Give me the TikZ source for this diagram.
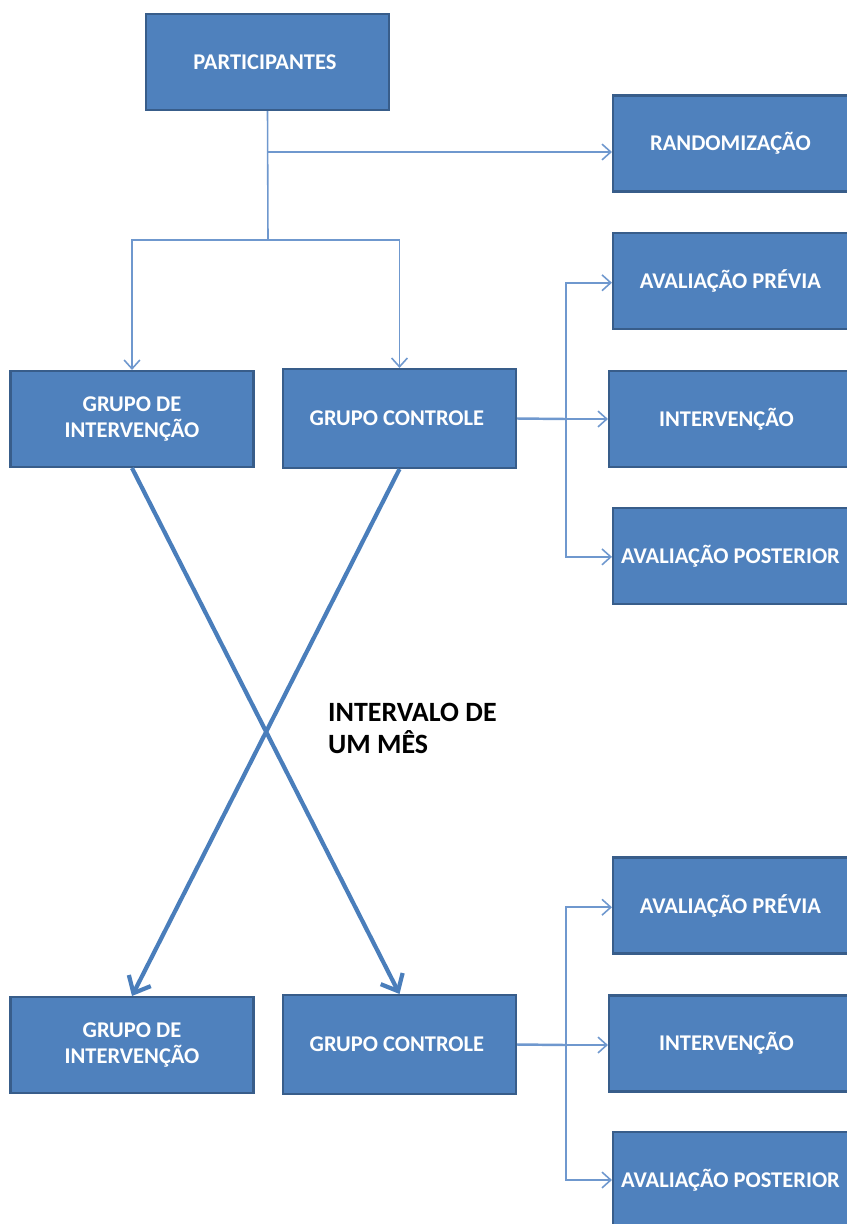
\documentclass[tikz,border=0pt]{standalone}
\usepackage{fontspec}
\setmainfont{Carlito}
\usetikzlibrary{arrows.meta, positioning}
\definecolor{boxfill}{HTML}{4F81BD}
\definecolor{boxline}{HTML}{385D8A}
\definecolor{linkblue}{HTML}{6F98CE}
\definecolor{crossblue}{HTML}{4A7EBB}
\tikzset{stage/.style={draw=boxline, line width=1.2pt, fill=boxfill, text=white, align=center,
    font=\fontsize{12.8}{14.7}\selectfont\bfseries, inner sep=0pt,
    minimum width=4.86cm, minimum height=1.92cm}}
\tikzset{stagec/.style={stage, minimum width=4.66cm, minimum height=1.98cm}}
\tikzset{stager/.style={stage, minimum width=4.8cm, minimum height=1.92cm}}
\tikzset{link/.style={draw=linkblue, line width=0.9pt, -{Straight Barb[length=5pt, width=9pt]}}}
\tikzset{plain/.style={draw=linkblue, line width=0.9pt}}
\tikzset{cross/.style={draw=crossblue, line width=2.4pt, -{Straight Barb[length=8pt, width=14pt, line width=2.4pt]}}}

\begin{document}
\begin{tikzpicture}[x=0.02cm, y=-0.02cm]
            \useasboundingbox (0, 0) rectangle (847, 1224);

            \node [stage] (part) at (267.5, 62) { PARTICIPANTES };
            \node [stager] (rand) at (733, 143.5) { RANDOMIZAÇÃO };

            \node [stage] (gi1) at (132, 419) { GRUPO DE\\INTERVENÇÃO };
            \node [stagec] (gc1) at (399.5, 418.5) { GRUPO CONTROLE };
            \node [stager] (prev1) at (733, 281) { AVALIAÇÃO PRÉVIA };
            \node [stager] (interv1) at (729, 419) { INTERVENÇÃO };
            \node [stager] (post1) at (733, 556) { AVALIAÇÃO POSTERIOR };

            \node [stage] (gi2) at (132, 1045) { GRUPO DE\\INTERVENÇÃO };
            \node [stagec] (gc2) at (399.5, 1044.5) { GRUPO CONTROLE };
            \node [stager] (prev2) at (733, 905.5) { AVALIAÇÃO PRÉVIA };
            \node [stager] (interv2) at (729, 1043.5) { INTERVENÇÃO };
            \node [stager] (post2) at (733, 1180) { AVALIAÇÃO POSTERIOR };

            \node [anchor=north west, align=left, font=\fontsize{15.9}{18}\selectfont\bfseries] (gap) at (322, 697) { INTERVALO DE\\UM MÊS };

            \coordinate (split) at (268, 240);
            \coordinate (tee) at (268, 152);
            \coordinate (fork1) at (566, 419);
            \coordinate (fork2) at (566, 1045);

            \draw [plain] (part.south) -- (split);
            \draw [link] (tee) -- (tee -| rand.west);
            \draw [link] (split) -| (gi1.north);
            \draw [link] (split) -| (gc1.north);

            \draw [plain, line width=1.4pt] (gc1.east) -- (fork1);
            \draw [link] (fork1) -- (fork1 -| interv1.west);
            \draw [link] (fork1) |- ([yshift=-1pt]prev1.west);
            \draw [link] (fork1) |- ([yshift=-0.5pt]post1.west);

            \draw [cross] (gi1.south) -- (gc2.north);
            \draw [cross] (gc1.south) -- (gi2.north);

            \draw [plain, line width=1.4pt] (gc2.east) -- (fork2);
            \draw [link] (fork2) -- (fork2 -| interv2.west);
            \draw [link] (fork2) |- ([yshift=-1pt]prev2.west);
            \draw [link] (fork2) |- (post2.west);
        \end{tikzpicture}
\end{document}
